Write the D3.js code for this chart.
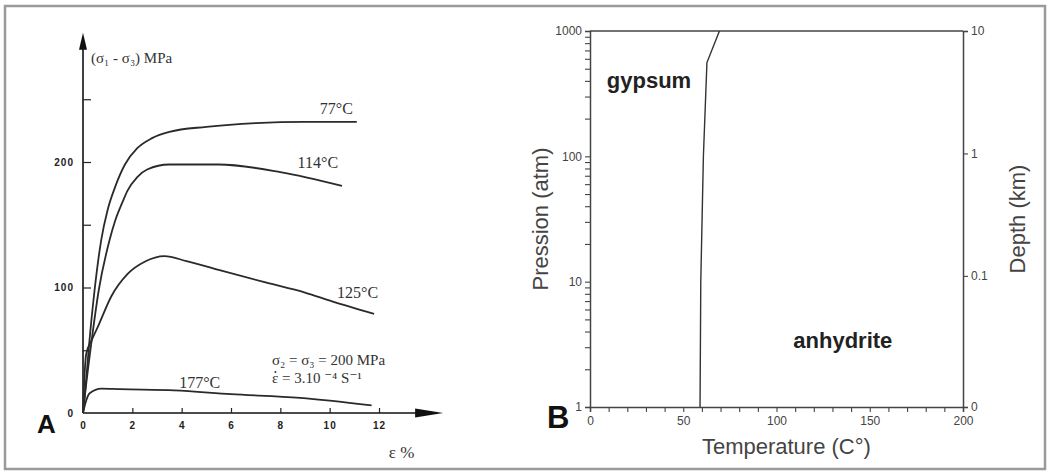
<!DOCTYPE html>
<html>
<head>
<meta charset="utf-8">
<script src="https://cdn.jsdelivr.net/npm/d3@7"></script>
<style>
  html, body { margin: 0; padding: 0; background: #fff; }
  svg { display: block; }
</style>
</head>
<body>
<div id="chart"></div>
<script>
// A: stress-strain curves (strain %, stress MPa)
const curve77 = [[0,0],[0.1,20],[0.25,55],[0.47,98],[0.74,138],[1.0,162],[1.3,180],[1.7,198],[2.2,211],[2.8,219],[3.5,224],[5,228],[7,231],[9,232],[11.1,232]];
const curve114 = [[0,0],[0.1,18],[0.3,50],[0.64,98],[1.08,138],[1.3,153],[1.6,168],[1.8,177],[2.2,188],[2.6,194],[3.5,198],[5.5,198],[8,192],[10.5,181]];
const curve125 = [[0,0],[0.05,25],[0.13,47],[0.35,58],[0.61,69],[1.15,93],[1.82,111],[2.5,120.5],[3.3,125],[4.2,121],[5.5,114],[7.4,104],[9,96],[10.1,89],[11.8,79]];
const curve177 = [[0,0],[0.1,8],[0.27,15.7],[0.74,19.5],[1.5,19],[3.7,18],[6,15],[8.8,12],[11.7,6]];
const curveNames = ["77°C", "114°C", "125°C", "177°C"];
const curveLabelPos = [[9.6,238],[8.7,195],[10.3,92],[3.9,20]];
const strainTicks = [0, 2, 4, 6, 8, 10, 12];
const stressTicks = [0, 100, 200];
const stressMinor = [50, 150, 250];

// B: gypsum / anhydrite boundary
const boundaryPressure = [1, 10, 100, 560, 1000];
const boundaryTemp = [59, 59.4, 60.8, 62.7, 69.4];
const tempTicks = [0, 50, 100, 150, 200];
const pressureTicks = [1, 10, 100, 1000];
const depthTicks = [10, 1, 0.1];

function drawFigure() {
    const svg = d3.select("#chart")
        .append("svg")
        .attr("width", 1048)
        .attr("height", 475);

    // outer frame
    svg.append("rect")
        .attr("x", 5).attr("y", 6)
        .attr("width", 1040).attr("height", 463)
        .attr("fill", "none")
        .attr("stroke", "#9a9a9a")
        .attr("stroke-width", 2.5);

    drawPanelA(svg);
    drawPanelB(svg);
}

function drawPanelA(svg) {
    const x = d3.scaleLinear().domain([0, 12]).range([83, 379]);
    const y = d3.scaleLinear().domain([0, 200]).range([413, 162]);
    const serif = "'Liberation Serif', 'DejaVu Serif', serif";
    const g = svg.append("g").attr("class", "panel-a");

    // axis lines with arrow heads
    const xEnd = 14.6, yEnd = 303;
    g.append("line")
        .attr("x1", x(0)).attr("y1", y(0))
        .attr("x2", x(xEnd) - 20).attr("y2", y(0))
        .attr("stroke", "#111").attr("stroke-width", 1.6);
    g.append("path")
        .attr("d", `M${x(xEnd)},${y(0)} L${x(xEnd) - 28},${y(0) - 4.5} L${x(xEnd) - 28},${y(0) + 4.5} Z`)
        .attr("fill", "#111");
    g.append("line")
        .attr("x1", x(0)).attr("y1", y(0))
        .attr("x2", x(0)).attr("y2", y(yEnd) + 12)
        .attr("stroke", "#111").attr("stroke-width", 1.6);
    g.append("path")
        .attr("d", `M${x(0)},${y(yEnd)} L${x(0) - 4},${y(yEnd) + 17} L${x(0) + 4},${y(yEnd) + 17} Z`)
        .attr("fill", "#111");

    // ticks (inward)
    const yAxis = g.append("g")
        .attr("transform", `translate(${x(0)},0)`)
        .call(d3.axisLeft(y).tickValues(stressTicks.concat(stressMinor))
            .tickSize(-8).tickPadding(9)
            .tickFormat((d) => stressTicks.includes(d) ? d : ""));
    const xAxis = g.append("g")
        .attr("transform", `translate(0,${y(0)})`)
        .call(d3.axisBottom(x).tickValues(strainTicks).tickSize(-5).tickPadding(9));
    [xAxis, yAxis].forEach((a) => {
        a.select(".domain").remove();
        a.selectAll("line").attr("stroke", "#222").attr("stroke-width", 1.2);
        a.selectAll("text")
            .attr("fill", "#222")
            .style("font-family", "'Liberation Sans', Arial, sans-serif")
            .style("font-size", "10px")
            .style("font-weight", "bold")
            .style("letter-spacing", "1px");
    });
    xAxis.selectAll(".tick").filter((d) => d === 0).select("line").remove();
    yAxis.selectAll(".tick").filter((d) => d === 0).select("line").remove();

    // curves
    const line = d3.line()
        .x((d) => x(d[0]))
        .y((d) => y(d[1]))
        .curve(d3.curveMonotoneX);
    g.selectAll(".curve")
        .data([curve77, curve114, curve125, curve177])
        .join("path")
        .attr("class", "curve")
        .attr("d", line)
        .attr("fill", "none")
        .attr("stroke", "#2a2a2a")
        .attr("stroke-width", 1.8);

    g.selectAll(".curve-label")
        .data(curveNames)
        .join("text")
        .attr("class", "curve-label")
        .attr("x", (d, i) => x(curveLabelPos[i][0]))
        .attr("y", (d, i) => y(curveLabelPos[i][1]))
        .attr("fill", "#333")
        .style("font-family", serif)
        .style("font-size", "16px")
        .text((d) => d);

    // axis titles
    g.append("text")
        .attr("x", x(0) + 8).attr("y", y(yEnd) + 30)
        .attr("fill", "#333")
        .style("font-family", serif)
        .style("font-size", "15px")
        .text("(σ₁ - σ₃) MPa");
    g.append("text")
        .attr("x", x(12.4)).attr("y", y(0) + 45)
        .attr("fill", "#333")
        .style("font-family", serif)
        .style("font-size", "17px")
        .text("ε %");

    // test conditions
    g.append("text")
        .attr("x", x(7.66)).attr("y", y(38))
        .attr("fill", "#333")
        .style("font-family", serif)
        .style("font-size", "15px")
        .text("σ₂ = σ₃ = 200 MPa");
    g.append("text")
        .attr("x", x(7.66)).attr("y", y(24))
        .attr("fill", "#333")
        .style("font-family", serif)
        .style("font-size", "15px")
        .text("ε = 3.10 ⁻⁴  S⁻¹");
    // rate dot over the epsilon
    g.append("circle")
        .attr("cx", x(7.66) + 3.5).attr("cy", y(24) - 11)
        .attr("r", 1)
        .attr("fill", "#333");

    g.append("text")
        .attr("x", 37).attr("y", 433)
        .attr("fill", "#111")
        .style("font-family", "'Liberation Sans', Arial, sans-serif")
        .style("font-size", "26px")
        .style("font-weight", "bold")
        .text("A");
}

function drawPanelB(svg) {
    const x = d3.scaleLinear().domain([0, 200]).range([590, 963]);
    const y = d3.scaleLog().domain([1, 1000]).range([407, 31]);
    const depthFloor = 0.0085;
    const depth = d3.scaleLog().domain([depthFloor, 10]).range([407, 31]);
    const sans = "'Liberation Sans', Arial, sans-serif";
    const g = svg.append("g").attr("class", "panel-b");

    const logTicks = [];
    [1, 10, 100].forEach((p) => { for (let k = 1; k < 10; k++) logTicks.push(p * k); });
    logTicks.push(1000);

    const yAxis = g.append("g")
        .attr("transform", `translate(${x(0)},0)`)
        .call(d3.axisLeft(y).tickValues(logTicks).tickSize(5).tickPadding(3)
            .tickFormat((d) => pressureTicks.includes(d) ? d : ""));
    const xAxis = g.append("g")
        .attr("transform", `translate(0,${y(1)})`)
        .call(d3.axisBottom(x).tickValues(d3.range(0, 201, 10)).tickSize(5).tickPadding(4)
            .tickFormat((d) => tempTicks.includes(d) ? d : ""));
    const rAxis = g.append("g")
        .attr("transform", `translate(${x(200)},0)`)
        .call(d3.axisRight(depth).tickValues(depthTicks.concat([depthFloor])).tickSize(5).tickPadding(3)
            .tickFormat((d) => d === depthFloor ? "0" : d));
    [xAxis, yAxis, rAxis].forEach((a) => {
        a.select(".domain").attr("stroke", "#444").attr("stroke-width", 1.5);
        a.selectAll("line").attr("stroke", "#444").attr("stroke-width", 1.1);
        a.selectAll("text")
            .attr("fill", "#444")
            .style("font-family", sans)
            .style("font-size", "12px");
    });

    // top frame line
    g.append("line")
        .attr("x1", x(0)).attr("x2", x(200))
        .attr("y1", y(1000)).attr("y2", y(1000))
        .attr("stroke", "#444").attr("stroke-width", 1.6);

    // phase boundary
    const line = d3.line()
        .x((d) => x(d[0]))
        .y((d) => y(d[1]));
    g.append("path")
        .datum(boundaryTemp.map((t, i) => [t, boundaryPressure[i]]))
        .attr("d", line)
        .attr("fill", "none")
        .attr("stroke", "#333")
        .attr("stroke-width", 1.4);

    g.append("text")
        .attr("x", x(9)).attr("y", y(350))
        .attr("fill", "#222")
        .style("font-family", sans)
        .style("font-size", "22px")
        .style("font-weight", "bold")
        .text("gypsum");
    g.append("text")
        .attr("x", x(109)).attr("y", y(2.96))
        .attr("fill", "#222")
        .style("font-family", sans)
        .style("font-size", "22px")
        .style("font-weight", "bold")
        .text("anhydrite");

    // axis titles
    g.append("text")
        .attr("x", x(60)).attr("y", y(1) + 47)
        .attr("fill", "#444")
        .style("font-family", sans)
        .style("font-size", "22px")
        .text("Temperature (C°)");
    g.append("text")
        .attr("transform", `translate(${x(0) - 42},${(y(1) + y(1000)) / 2}) rotate(-90)`)
        .attr("text-anchor", "middle")
        .attr("fill", "#444")
        .style("font-family", sans)
        .style("font-size", "22px")
        .text("Pression (atm)");
    g.append("text")
        .attr("transform", `translate(${x(200) + 62},${(y(1) + y(1000)) / 2}) rotate(-90)`)
        .attr("text-anchor", "middle")
        .attr("fill", "#444")
        .style("font-family", sans)
        .style("font-size", "22px")
        .text("Depth (km)");

    g.append("text")
        .attr("x", 547).attr("y", 428)
        .attr("fill", "#111")
        .style("font-family", sans)
        .style("font-size", "31px")
        .style("font-weight", "bold")
        .text("B");
}

drawFigure();
</script>
</body>
</html>
